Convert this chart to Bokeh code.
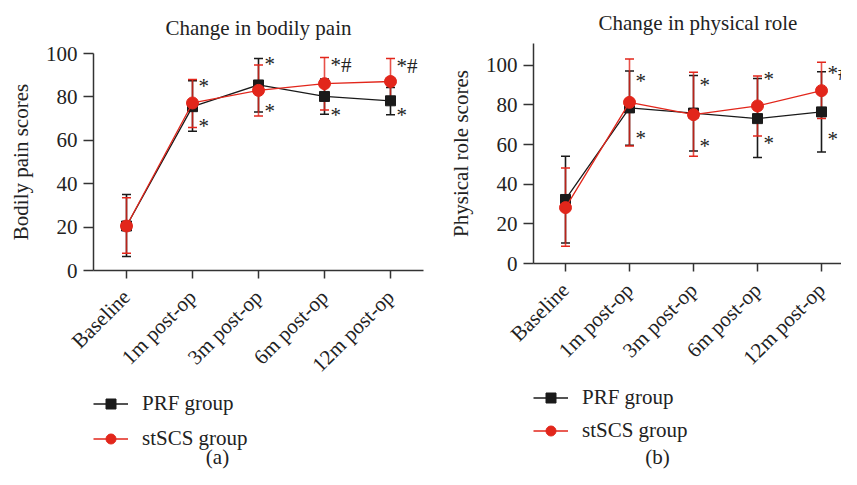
import math
from bokeh.plotting import figure
from bokeh.models import (Range1d, FixedTicker, ColumnDataSource, Whisker, TeeHead,
                          Legend, LegendItem, Label)
from bokeh.layouts import row, column
from bokeh.core.properties import value
from bokeh.embed import file_html
from bokeh.resources import INLINE

categories = ["Baseline", "1m post-op", "3m post-op", "6m post-op", "12m post-op"]
series_names = ["PRF group", "stSCS group"]

# (a) Change in bodily pain
pain_prf_mean = [20.5, 75.5, 85.5, 80.2, 78.2]
pain_prf_lower = [6.4, 64.2, 73.0, 72.0, 71.8]
pain_prf_upper = [35.0, 87.4, 97.7, 88.3, 84.3]
pain_scs_mean = [20.5, 77.2, 83.0, 86.1, 87.1]
pain_scs_lower = [7.9, 65.9, 71.2, 74.0, 76.7]
pain_scs_upper = [33.5, 88.0, 94.7, 98.2, 97.7]
pain_sig_above = ["", "*", "*", "*#", "*#"]
pain_sig_above_y = [0, 85.8, 95.9, 95.4, 95.0]
pain_sig_below = ["", "*", "*", "*", "*"]
pain_sig_below_y = [0, 67.6, 74.4, 72.6, 72.6]

# (b) Change in physical role
role_prf_mean = [32.3, 78.5, 75.9, 73.1, 76.5]
role_prf_lower = [10.4, 59.7, 56.8, 53.5, 56.3]
role_prf_upper = [54.1, 97.1, 94.8, 93.4, 96.8]
role_scs_mean = [28.2, 81.3, 75.1, 79.5, 87.2]
role_scs_lower = [8.7, 59.3, 54.1, 64.3, 73.1]
role_scs_upper = [48.2, 103.2, 96.5, 94.6, 101.5]
role_sig_above = ["", "*", "*", "*", "*#"]
role_sig_above_y = [0, 93.1, 91.1, 94.1, 97.1]
role_sig_below = ["", "*", "*", "*", "*"]
role_sig_below_y = [0, 64.2, 60.5, 61.8, 63.8]

FONT = "Liberation Serif"
FS = "21px"
TXT = "#222222"
AX = "#333333"
BLACK = "#1a1a1a"
RED = "#e2261b"
STYLES = [(BLACK, "square", 10, 1.0), (RED, "circle", 12, 0.8)]
XS = list(range(len(categories)))


def blank(p):
    p.outline_line_color = None
    p.grid.visible = False
    p.background_fill_color = None
    p.border_fill_color = None


def draw_series(p, mean, style, whiskers=None):
    color, marker, size, alpha = style
    src = ColumnDataSource(dict(x=XS, y=mean))
    if whiskers is not None:
        lower, upper = whiskers
        wsrc = ColumnDataSource(dict(x=XS, lower=lower, upper=upper))
        p.add_layout(Whisker(source=wsrc, base="x", lower="lower", upper="upper",
                             dimension="height", line_color=color, line_width=1.6,
                             line_alpha=alpha,
                             upper_head=TeeHead(size=9, line_color=color, line_width=1.5),
                             lower_head=TeeHead(size=9, line_color=color, line_width=1.5)))
    lr = p.line("x", "y", source=src, line_color=color, line_width=1.3)
    sr = p.scatter("x", "y", source=src, marker=marker, size=size,
                   fill_color=color, line_color=color)
    return [lr, sr]


def panel(title, ylabel, ymax, xend, width, height, bl, br, bt, bb,
          title_align, title_offset, title_standoff,
          prf, scs, sig_a, sig_a_y, sig_b, sig_b_y):
    p = figure(width=width, height=height, output_backend="svg", toolbar_location=None,
               x_range=Range1d(-0.5, xend), y_range=Range1d(0, ymax),
               min_border_left=bl, min_border_right=br, min_border_top=bt,
               min_border_bottom=bb)
    blank(p)
    p.title.text = title
    p.title.align = title_align
    p.title.offset = title_offset
    p.title.text_font = FONT
    p.title.text_font_size = FS
    p.title.text_font_style = "normal"
    p.title.text_color = TXT
    p.title.standoff = title_standoff

    xa = p.xaxis[0]
    xa.ticker = FixedTicker(ticks=XS)
    xa.major_label_overrides = {i: c for i, c in zip(XS, categories)}
    xa.major_label_orientation = math.pi / 4
    ya = p.yaxis[0]
    ya.ticker = FixedTicker(ticks=[0, 20, 40, 60, 80, 100])
    ya.axis_label = ylabel
    for ax in (xa, ya):
        ax.axis_line_color = AX
        ax.axis_line_width = 1.5
        ax.major_tick_line_color = AX
        ax.major_tick_line_width = 1.5
        ax.minor_tick_line_color = None
        ax.major_tick_in = 0
        ax.major_label_text_font = FONT
        ax.major_label_text_font_size = FS
        ax.major_label_text_color = TXT
        ax.axis_label_text_font = FONT
        ax.axis_label_text_font_size = FS
        ax.axis_label_text_font_style = "normal"
        ax.axis_label_text_color = TXT
    xa.major_tick_out = 8
    xa.major_label_standoff = 15
    ya.major_tick_out = 10
    ya.major_label_standoff = 6
    ya.axis_label_standoff = 10

    for (mean, lower, upper), style in zip((prf, scs), STYLES):
        draw_series(p, mean, style, (lower, upper))

    for labels, ys in ((sig_a, sig_a_y), (sig_b, sig_b_y)):
        keep = [i for i, t in enumerate(labels) if t]
        s = ColumnDataSource(dict(x=[XS[i] for i in keep], y=[ys[i] for i in keep],
                                  t=[labels[i] for i in keep]))
        p.text("x", "y", text="t", source=s, text_align="left",
               text_baseline="middle", x_offset=6, y_offset=2,
               text_font_size=value(FS), text_color=TXT,
               text_font=value(FONT))
    return p


def legend_panel(width, height, means, loc, spacing, caption, cap_x, cap_y):
    # same series drawn again, outside the visible range, so that the legend
    # shows their line + marker samples
    q = figure(width=width, height=height, output_backend="svg", toolbar_location=None,
               x_range=Range1d(-0.5, 4.5), y_range=Range1d(500, 501),
               x_axis_location=None, y_axis_location=None, min_border=0)
    blank(q)
    items = [LegendItem(label=n, renderers=draw_series(q, m, s))
             for n, m, s in zip(series_names, means, STYLES)]
    q.add_layout(Legend(items=items, location=loc, orientation="vertical", margin=0,
                        padding=0, border_line_color=None, background_fill_alpha=0,
                        glyph_width=35, glyph_height=25, label_height=25,
                        label_standoff=14, spacing=spacing,
                        label_text_font=FONT, label_text_font_size=FS,
                        label_text_color=TXT), "center")
    q.add_layout(Label(x=cap_x, y=cap_y, x_units="screen", y_units="screen",
                       text=caption, text_align="center", text_baseline="bottom",
                       text_font=FONT, text_font_size=FS, text_color=TXT))
    return q


p1 = panel("Change in bodily pain", "Bodily pain scores", 100, 4.5,
           430, 390, 93, 7, 51, 120, "center", 0, 27,
           (pain_prf_mean, pain_prf_lower, pain_prf_upper),
           (pain_scs_mean, pain_scs_lower, pain_scs_upper),
           pain_sig_above, pain_sig_above_y, pain_sig_below, pain_sig_below_y)
l1 = legend_panel(430, 79, (pain_prf_mean, pain_scs_mean), (0, 18), 10, "(a)", 124, 1)

p2 = panel("Change in physical role", "Physical role scores", 111, 4.3125,
           411, 383, 103, 0, 43, 120, "left", 65, 17,
           (role_prf_mean, role_prf_lower, role_prf_upper),
           (role_scs_mean, role_scs_lower, role_scs_upper),
           role_sig_above, role_sig_above_y, role_sig_below, role_sig_below_y)
l2 = legend_panel(411, 86, (role_prf_mean, role_scs_mean), (0, 26), 8, "(b)", 124, 1)

layout = row(column(p1, l1), column(p2, l2))
open("out.html", "w").write(file_html(layout, INLINE))
